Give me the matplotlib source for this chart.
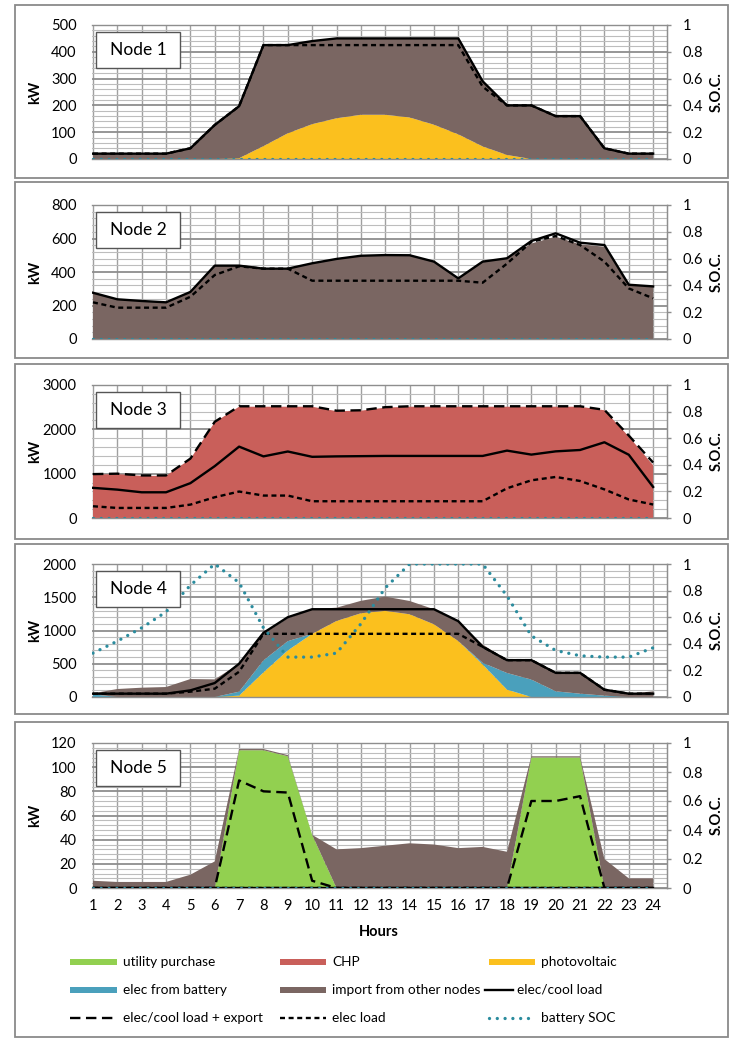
import matplotlib
matplotlib.use('Agg')
import matplotlib.pyplot as plt
from matplotlib.patches import Rectangle
from matplotlib.lines import Line2D
from matplotlib.ticker import MultipleLocator

plt.rcParams['font.family'] = ['Lato', 'DejaVu Sans']
plt.rcParams['lines.scale_dashes'] = False

# ---------------- data ----------------
hours = [1, 2, 3, 4, 5, 6, 7, 8, 9, 10, 11, 12, 13, 14, 15, 16, 17, 18, 19, 20, 21, 22, 23, 24]
hour_labels = [str(h) for h in hours]

# Node 1
n1_pv = [0, 0, 0, 0, 0, 0, 3, 48, 96, 130, 152, 165, 165, 155, 128, 92, 47, 15, 0, 0, 0, 0, 0, 0]
n1_import = [20, 20, 20, 20, 40, 127, 194, 377, 329, 310, 298, 285, 285, 295, 322, 358, 243, 185, 200, 160, 160, 40, 20, 20]
n1_load = [20, 20, 20, 20, 40, 127, 197, 425, 425, 440, 450, 450, 450, 450, 450, 450, 290, 200, 200, 160, 160, 40, 20, 20]
n1_elec = [20, 20, 20, 20, 40, 127, 197, 425, 425, 425, 425, 425, 425, 425, 425, 425, 270, 200, 200, 160, 160, 40, 20, 20]
n1_soc = [0, 0, 0, 0, 0, 0, 0, 0, 0, 0, 0, 0, 0, 0, 0, 0, 0, 0, 0, 0, 0, 0, 0, 0]

# Node 2
n2_import = [276, 237, 227, 219, 281, 438, 438, 420, 420, 452, 478, 497, 501, 500, 462, 362, 462, 482, 570, 611, 565, 551, 324, 314]
n2_load = [276, 237, 227, 219, 281, 438, 438, 420, 420, 452, 478, 497, 501, 500, 462, 362, 462, 482, 585, 631, 575, 561, 324, 314]
n2_elec = [219, 187, 187, 187, 252, 382, 434, 420, 420, 348, 348, 348, 348, 348, 348, 348, 336, 450, 580, 615, 561, 462, 302, 243]
n2_soc = [0, 0, 0, 0, 0, 0, 0, 0, 0, 0, 0, 0, 0, 0, 0, 0, 0, 0, 0, 0, 0, 0, 0, 0]

# Node 3
n3_chp = [980, 990, 950, 950, 1330, 2160, 2510, 2510, 2510, 2510, 2410, 2420, 2490, 2510, 2510, 2510, 2510, 2510, 2510, 2510, 2510, 2430, 1840, 1190]
n3_export = [990, 1000, 960, 960, 1340, 2170, 2520, 2520, 2520, 2520, 2420, 2430, 2500, 2520, 2520, 2520, 2520, 2520, 2520, 2520, 2520, 2440, 1860, 1250]
n3_load = [680, 640, 580, 580, 786, 1170, 1610, 1390, 1500, 1380, 1390, 1395, 1400, 1400, 1400, 1400, 1400, 1520, 1430, 1503, 1534, 1708, 1427, 700]
n3_elec = [265, 227, 227, 227, 302, 468, 597, 506, 506, 378, 378, 378, 378, 378, 378, 378, 378, 670, 850, 926, 835, 645, 418, 304]
n3_soc = [0, 0, 0, 0, 0, 0, 0, 0, 0, 0, 0, 0, 0, 0, 0, 0, 0, 0, 0, 0, 0, 0, 0, 0]

# Node 4
n4_pv = [0, 0, 0, 0, 0, 0, 20, 370, 700, 950, 1143, 1259, 1295, 1244, 1093, 841, 489, 111, 0, 0, 0, 0, 0, 0]
n4_batt = [40, 0, 0, 0, 0, 0, 60, 180, 140, 0, 0, 0, 0, 0, 0, 0, 25, 250, 262, 85, 50, 20, 0, 0]
n4_import = [15, 120, 140, 150, 270, 265, 420, 400, 345, 370, 200, 187, 215, 200, 227, 287, 276, 193, 292, 278, 313, 90, 50, 85]
n4_load = [50, 50, 50, 50, 100, 210, 500, 965, 1200, 1320, 1320, 1320, 1320, 1320, 1320, 1140, 755, 554, 554, 363, 363, 110, 50, 50]
n4_elec = [50, 50, 50, 50, 80, 125, 380, 950, 950, 950, 950, 950, 950, 950, 950, 950, 755, 554, 554, 363, 363, 110, 50, 50]
n4_soc = [0.33, 0.42, 0.52, 0.64, 0.84, 1.0, 0.86, 0.52, 0.30, 0.30, 0.33, 0.55, 0.82, 1.0, 1.0, 1.0, 1.0, 0.76, 0.46, 0.35, 0.31, 0.30, 0.30, 0.37]

# Node 5
n5_util = [0, 0, 0, 0, 0, 0, 114, 114, 109, 44, 0, 0, 0, 0, 0, 0, 0, 0, 108, 108, 108, 0, 0, 0]
n5_import = [6, 5, 5, 5, 11, 22, 1, 1, 1, 0, 32, 33, 35, 37, 36, 33, 34, 30, 1, 1, 1, 24, 8, 8]
n5_export = [0, 0, 0, 0, 0, 0, 89, 80, 79, 6, 0, 0, 0, 0, 0, 0, 0, 0, 72, 72, 76, 0, 0, 0]
n5_load = [0, 0, 0, 0, 0, 0, 0, 0, 0, 0, 0, 0, 0, 0, 0, 0, 0, 0, 0, 0, 0, 0, 0, 0]
n5_elec = [0, 0, 0, 0, 0, 0, 0, 0, 0, 0, 0, 0, 0, 0, 0, 0, 0, 0, 0, 0, 0, 0, 0, 0]
n5_soc = [0, 0, 0, 0, 0, 0, 0, 0, 0, 0, 0, 0, 0, 0, 0, 0, 0, 0, 0, 0, 0, 0, 0, 0]

node_names = ['Node 1', 'Node 2', 'Node 3', 'Node 4', 'Node 5']
legend_labels = ['utility purchase', 'CHP', 'photovoltaic',
                 'elec from battery', 'import from other nodes', 'elec/cool load',
                 'elec/cool load + export', 'elec load', 'battery SOC']

# ---------------- styles ----------------
C_UTIL = '#92D050'
C_CHP = '#C95F5A'
C_PV = '#FBC01E'
C_BATT = '#4AA0BC'
C_IMP = '#7A6662'
C_SOC = '#2B8C9E'
LONG_DASH = (0, (7.5, 4.0))
SHORT_DASH = (0, (3.6, 2.6))
SOC_STYLE = (0, (0.01, 5.6))

W, H = 735, 1040
fig = plt.figure(figsize=(W / 100, H / 100), dpi=100)


def fx(px):
    return px / W


def fy(py):
    return 1 - py / H


AX_L, AX_R = 92, 667

# (top px, bottom px, ymax, major, minor)
layout = [
    (25, 159, 500, 100, 20),
    (205, 339, 800, 200, 40),
    (385, 518, 3000, 1000, 200),
    (564, 697, 2000, 500, 100),
    (743, 888, 120, 20, 4),
]
boxes = [(5, 178), (182, 358), (364, 539), (544, 714), (722, 1037)]

for (bt, bb) in boxes:
    fig.add_artist(Rectangle((fx(15), fy(bb)), fx(728) - fx(15), fy(bt) - fy(bb),
                             transform=fig.transFigure, fill=False,
                             edgecolor='#8A8A8A', linewidth=1.3, zorder=0))

areas = [
    [(n1_pv, C_PV), (n1_import, C_IMP)],
    [(n2_import, C_IMP)],
    [(n3_chp, C_CHP)],
    [(n4_pv, C_PV), (n4_batt, C_BATT), (n4_import, C_IMP)],
    [(n5_util, C_UTIL), (n5_import, C_IMP)],
]
lines = [
    [(n1_load, '-'), (n1_elec, SHORT_DASH)],
    [(n2_load, '-'), (n2_elec, SHORT_DASH)],
    [(n3_export, LONG_DASH), (n3_load, '-'), (n3_elec, SHORT_DASH)],
    [(n4_load, '-'), (n4_elec, SHORT_DASH)],
    [(n5_load, '-'), (n5_elec, SHORT_DASH), (n5_export, LONG_DASH)],
]
socs = [n1_soc, n2_soc, n3_soc, n4_soc, n5_soc]

for i, (top, bot, ymax, major, minor) in enumerate(layout):
    ax = fig.add_axes([fx(AX_L), fy(bot), fx(AX_R) - fx(AX_L), fy(top) - fy(bot)])
    ax.set_xlim(0.96, 24.57)
    ax.set_ylim(0, ymax)
    ax.yaxis.set_major_locator(MultipleLocator(major))
    ax.yaxis.set_minor_locator(MultipleLocator(minor))
    ax.set_xticks(hours)
    ax.set_axisbelow(True)
    ax.grid(True, which='minor', axis='y', color='#BDBDBD', linewidth=0.8)
    ax.grid(True, which='major', axis='y', color='#8E8E8E', linewidth=1.3)
    ax.grid(True, which='major', axis='x', color='#A0A0A0', linewidth=1.0)
    ax.tick_params(axis='both', which='both', length=0)
    ax.tick_params(axis='y', labelsize=10.5, pad=11, colors='black')
    for s in ax.spines.values():
        s.set_color('#8E8E8E')
        s.set_linewidth(1.0)
    ax.spines['left'].set_visible(False)

    vals = [a[0] for a in areas[i]]
    cols = [a[1] for a in areas[i]]
    ax.stackplot(hours, *vals, colors=cols, linewidth=0, zorder=2)

    for (ys, ls) in lines[i]:
        ax.plot(hours, ys, color='black', linestyle=ls, linewidth=1.7, zorder=4)

    if i == 4:
        ax.set_xticklabels(hour_labels, fontsize=10.5)
        ax.tick_params(axis='x', pad=8)
    else:
        ax.set_xticklabels([])

    ax2 = ax.twinx()
    ax2.set_ylim(0, 1)
    ax2.set_yticks([0, 0.2, 0.4, 0.6, 0.8, 1.0])
    ax2.set_yticklabels(['0', '0.2', '0.4', '0.6', '0.8', '1'])
    ax2.tick_params(axis='y', length=3, width=1.0, color='#8E8E8E', labelsize=10.5, pad=8)
    for s in ax2.spines.values():
        s.set_visible(False)
    ax2.spines['right'].set_visible(True)
    ax2.spines['right'].set_color('#8E8E8E')
    ax2.plot(hours, socs[i], color=C_SOC, linestyle=SOC_STYLE, linewidth=2.4,
             dash_capstyle='round', solid_capstyle='round', zorder=5)
    ax2.set_xlim(0.96, 24.57)

    ymid = (fy(top) + fy(bot)) / 2
    fig.text(fx(35), ymid, 'kW', rotation=90, fontsize=10.5,
             fontweight='bold', ha='center', va='center')
    fig.text(fx(717), ymid, 'S.O.C.', rotation=90, fontsize=10.5,
             fontweight='bold', ha='center', va='center')

    # node label box
    bh = 36
    btop = top + 7
    fig.add_artist(Rectangle((fx(96), fy(btop + bh)), fx(180) - fx(96), fy(btop) - fy(btop + bh),
                             transform=fig.transFigure, facecolor='white',
                             edgecolor='#555555', linewidth=1.0, zorder=10))
    fig.text(fx(138), fy(btop + bh / 2), node_names[i], fontsize=12.5,
             ha='center', va='center', zorder=11)

fig.text(fx(379), fy(932), 'Hours', fontsize=10.5, fontweight='bold', ha='center', va='center')

# ---------------- legend ----------------
rows = [962, 990, 1018]
patch_cols = [(70, 117, 123), (280, 326, 332), (489, 535, 541)]
entries = [
    ('patch', C_UTIL, 0, 0), ('patch', C_CHP, 0, 1), ('patch', C_PV, 0, 2),
    ('patch', C_BATT, 1, 0), ('patch', C_IMP, 1, 1), ('line', '-', 1, 2),
    ('line', LONG_DASH, 2, 0), ('line', SHORT_DASH, 2, 1), ('soc', SOC_STYLE, 2, 2),
]
for k, (kind, sty, r, c) in enumerate(entries):
    y = rows[r]
    x0, x1, xt = patch_cols[c]
    if kind == 'patch':
        fig.add_artist(Rectangle((fx(x0), fy(y + 3)), fx(x1) - fx(x0), fy(y - 3) - fy(y + 3),
                                 transform=fig.transFigure, facecolor=sty, edgecolor='none'))
    elif kind == 'line':
        if r == 1:
            x0, x1, xt = 485, 513, 517
        fig.add_artist(Line2D([fx(x0), fx(x1)], [fy(y), fy(y)], transform=fig.transFigure,
                              color='black', linestyle=sty, linewidth=1.7))
    else:
        fig.add_artist(Line2D([fx(x0), fx(x1)], [fy(y), fy(y)], transform=fig.transFigure,
                              color=C_SOC, linestyle=sty, linewidth=2.4, dash_capstyle='round'))
    fig.text(fx(xt), fy(y), legend_labels[k], fontsize=9.8, ha='left', va='center')

fig.savefig('out.png', dpi=100)
